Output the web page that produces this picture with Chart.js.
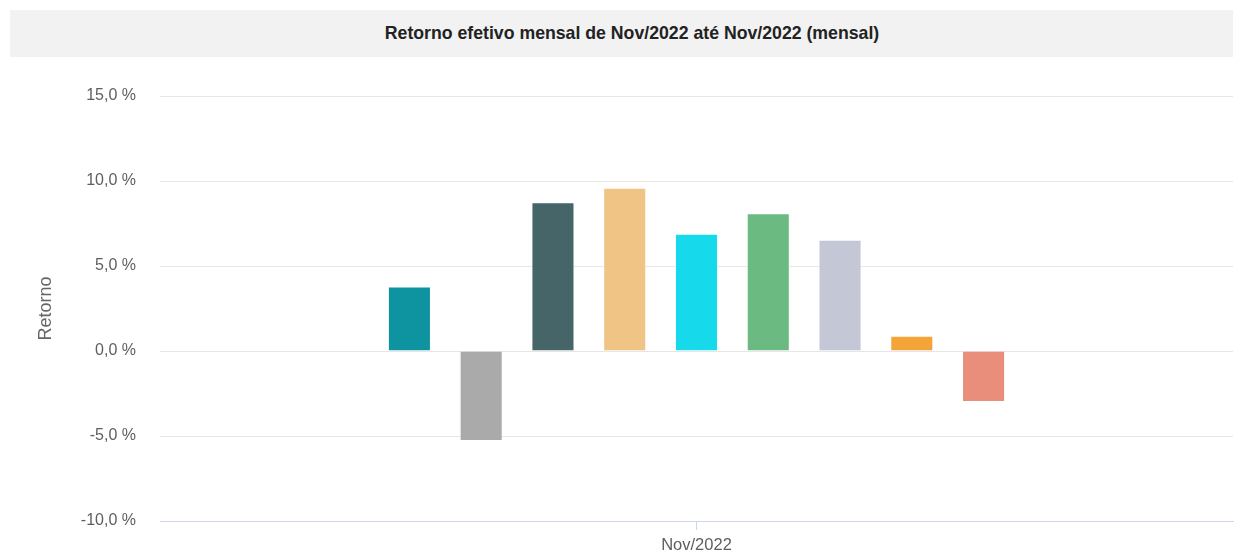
<!DOCTYPE html>
<html>
<head>
<meta charset="utf-8">
<script src="https://cdn.jsdelivr.net/npm/chart.js@4"></script>
<style>
  body { margin: 0; background: #fff; }
  #titulo {
    position: absolute; top: 10px; left: 10px; width: 1223px; height: 47px;
    box-sizing: border-box; padding-left: 21px;
    background: #f2f2f2; text-align: center;
    font: bold 17.7px "Liberation Sans", Arial, sans-serif; color: #222;
    line-height: 47px; z-index: 1;
  }
  #wrap { position: absolute; top: 0; left: 0; width: 1243px; height: 553px; }
</style>
</head>
<body>
<div id="titulo">Retorno efetivo mensal de Nov/2022 até Nov/2022 (mensal)</div>
<div id="wrap"><canvas id="grafico"></canvas></div>
<script>
// Dados
const categorias = ['Nov/2022'];
const series = ['Série 1', 'Série 2', 'Série 3', 'Série 4', 'Série 5', 'Série 6', 'Série 7', 'Série 8', 'Série 9'];
const valores = [3.8, -5.3, 8.75, 9.6, 6.9, 8.1, 6.55, 0.9, -3.0];
const cores = ['#0e94a0', '#aaaaaa', '#456569', '#f0c485', '#16d9ec', '#6bba82', '#c3c7d6', '#f5a43a', '#e98e7b'];
const ticksY = [-10, -5, 0, 5, 10, 15];

const fonte = '"Liberation Sans", Arial, sans-serif';

const datasets = series.map((nome, i) => ({
    label: nome,
    data: [valores[i]],
    backgroundColor: cores[i],
    borderColor: 'rgba(255,255,255,0.6)',
    borderWidth: 1
}));

new Chart(document.getElementById('grafico'), {
    type: 'bar',
    data: { labels: categorias, datasets: datasets },
    options: {
        responsive: true,
        maintainAspectRatio: false,
        animation: false,
        categoryPercentage: 0.602,
        barPercentage: 0.6,
        layout: { padding: { top: 96, right: 10, bottom: 0, left: 0 } },
        plugins: { legend: { display: false }, tooltip: { enabled: false } },
        scales: {
            x: {
                afterFit: (s) => { s.height = 32; },
                grid: { offset: false, drawOnChartArea: false, drawTicks: true, tickLength: 9, color: '#ccd6eb' },
                border: { display: true, color: '#ccd6eb', z: 1 },
                ticks: { padding: 6, color: '#5e5e5e', font: { family: fonte, size: 16.5 } }
            },
            y: {
                min: ticksY[0],
                max: ticksY[ticksY.length - 1],
                afterFit: (s) => { s.width = 160; },
                afterBuildTicks: (s) => { s.ticks = ticksY.map(v => ({ value: v })); },
                border: { display: false },
                grid: {
                    drawTicks: true,
                    tickLength: 24,
                    tickColor: 'rgba(0,0,0,0)',
                    color: (ctx) => ctx.tick && ctx.tick.value === ticksY[0] ? 'rgba(0,0,0,0)' : '#e6e6e6'
                },
                ticks: {
                    padding: 0,
                    color: '#5e5e5e',
                    font: { family: fonte, size: 16 },
                    callback: (v) => v.toFixed(1).replace('.', ',') + ' %'
                },
                title: {
                    display: true,
                    text: 'Retorno',
                    color: '#666666',
                    font: { family: fonte, size: 18 },
                    padding: { top: 35, bottom: 0 }
                }
            }
        }
    }
});
</script>
</body>
</html>
